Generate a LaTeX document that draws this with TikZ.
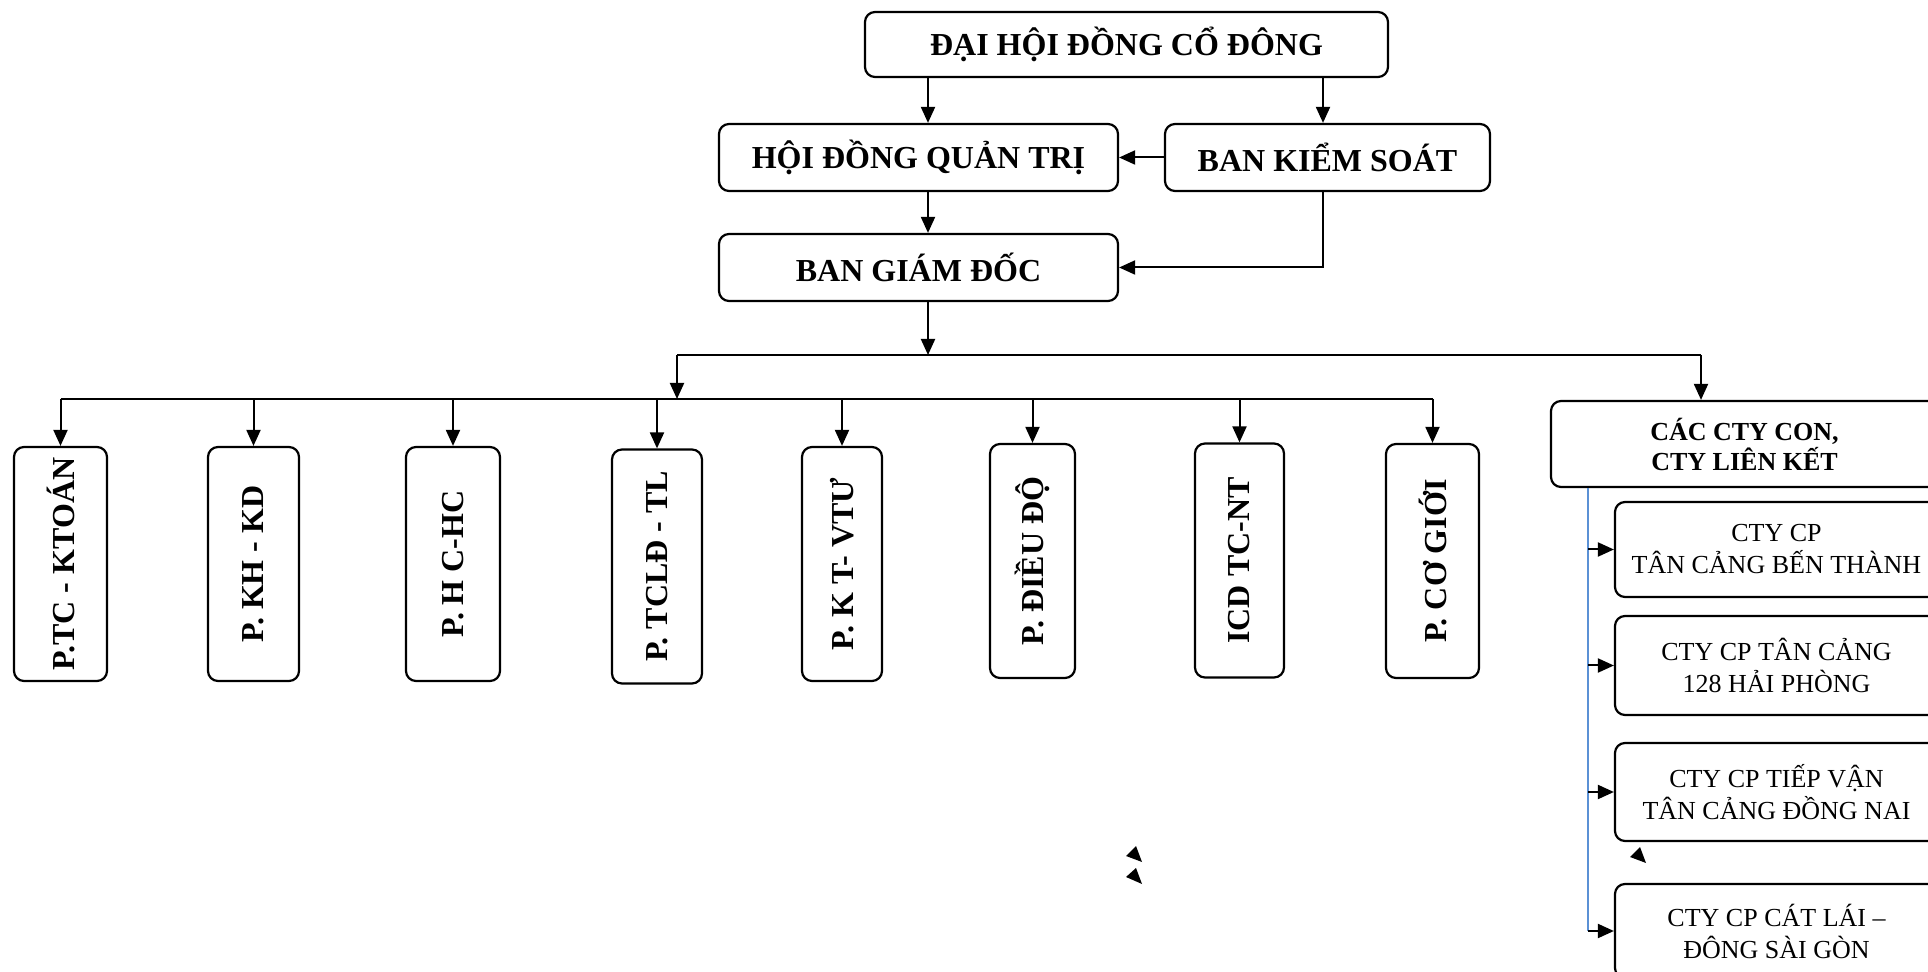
\documentclass[tikz,border=0pt]{standalone}
\usepackage{fontspec}
\setmainfont{Liberation Serif}
\usepackage{tikz}
\usetikzlibrary{arrows.meta}

\definecolor{railblue}{RGB}{91,145,213}

\begin{document}
\begin{tikzpicture}[x=0.5pt, y=-0.5pt,
    box/.style={draw, rounded corners=5pt, line width=1.1pt, inner sep=0pt, align=center},
    headbox/.style={box, minimum height=33.5pt, font=\bfseries\fontsize{16}{19}\selectfont},
    deptbox/.style={box, minimum height=117pt, font=\bfseries\fontsize{16}{19}\selectfont},
    subbox/.style={box, minimum width=161.5pt, font=\fontsize{13}{16}\selectfont},
    arr/.style={line width=1pt, -{Triangle[length=8pt, width=7pt]}},
    link/.style={line width=1pt}]
  \useasboundingbox (0,0) rectangle (1928,972);
  \clip (0,0) rectangle (1928,972);

  % top of the chart
  \node[headbox, minimum width=261.5pt, minimum height=32.5pt] (dhcd) at (1126.5,44.5) {ĐẠI HỘI ĐỒNG CỔ ĐÔNG};
  \node[headbox, minimum width=199.5pt] (hdqt) at (918.5,157.5) {HỘI ĐỒNG QUẢN TRỊ};
  \node[headbox, minimum width=162.5pt] (bks) at (1327.5,157.5) {BAN KIỂM SOÁT};
  \node[headbox, minimum width=199.5pt] (bgd) at (918.5,267.5) {BAN GIÁM ĐỐC};

  \coordinate (c1) at (928,0);
  \coordinate (c2) at (1323,0);
  \coordinate (bus1) at (677,355);
  \coordinate (bus1end) at (1701,355);
  \coordinate (bus2) at (0,399);
  \coordinate (rail) at (1588,0);

  \draw[arr] (dhcd.south -| c1) -- (hdqt.north -| c1);
  \draw[arr] (dhcd.south -| c2) -- (bks.north -| c2);
  \draw[arr] (bks.west) -- (hdqt.east);
  \draw[arr] (hdqt.south -| c1) -- (bgd.north -| c1);
  \draw[arr] (bks.south -| c2) -- (c2 |- bgd.east) -- (bgd.east);
  \draw[arr] (bgd.south -| c1) -- (c1 |- bus1);

  % departments
  \foreach \x/\y/\w/\name/\txt in {
      60.5/564/46.5/d1/P.TC - KTOÁN,
      253.5/564/45.5/d2/P. KH - KD,
      453/564/47/d3/P. H C-HC,
      657/566.5/45/d4/P. TCLĐ - TL,
      842/564/40/d5/P. K T- VTƯ,
      1032.5/561/42.5/d6/P. ĐIỀU ĐỘ,
      1239.5/560.5/44.5/d7/ICD TC-NT,
      1432.5/561/46.5/d8/P. CƠ GIỚI} {
    \node[deptbox, minimum width=\w pt] (\name) at (\x,\y) {\rotatebox{90}{\txt}};
    \draw[arr] (bus2 -| \name.north) -- (\name.north);
  }
  \draw[link] (bus2 -| d1.north) -- (bus2 -| d8.north);

  % subsidiaries
  \node[box, minimum width=193.5pt, minimum height=43pt,
    font=\bfseries\fontsize{13}{15}\selectfont] (cty) at (1744.5,444) {CÁC CTY CON,\\CTY LIÊN KẾT};
  \node[subbox, minimum height=47.5pt] (s1) at (1776.5,549.5) {CTY CP\\TÂN CẢNG BẾN THÀNH};
  \node[subbox, minimum height=49.5pt] (s2) at (1776.5,665.5) {CTY CP TÂN CẢNG\\128 HẢI PHÒNG};
  \node[subbox, minimum height=49pt] (s3) at (1776.5,792) {CTY CP TIẾP VẬN\\TÂN CẢNG ĐỒNG NAI};
  \node[subbox, minimum height=47pt] (s4) at (1776.5,931) {CTY CP CÁT LÁI –\\ĐÔNG SÀI GÒN};

  \draw[link] (bus1) -- (bus1end);
  \draw[arr] (bus1) -- (bus1 |- bus2);
  \draw[arr] (bus1end) -- (bus1end |- cty.north);
  \draw[link, railblue] (cty.south -| rail) -- (rail |- s4.west);
  \foreach \s in {s1, s2, s3, s4}
  \draw[arr] (rail |- \s.west) -- (\s.west);

  % loose arrow heads
  \fill (1640,847) -- (1630,857) -- (1646,863) -- cycle;
  \fill (1136,846) -- (1126,856) -- (1142,862) -- cycle;
  \fill (1136,868) -- (1126,877) -- (1142,884) -- cycle;
\end{tikzpicture}
\end{document}
